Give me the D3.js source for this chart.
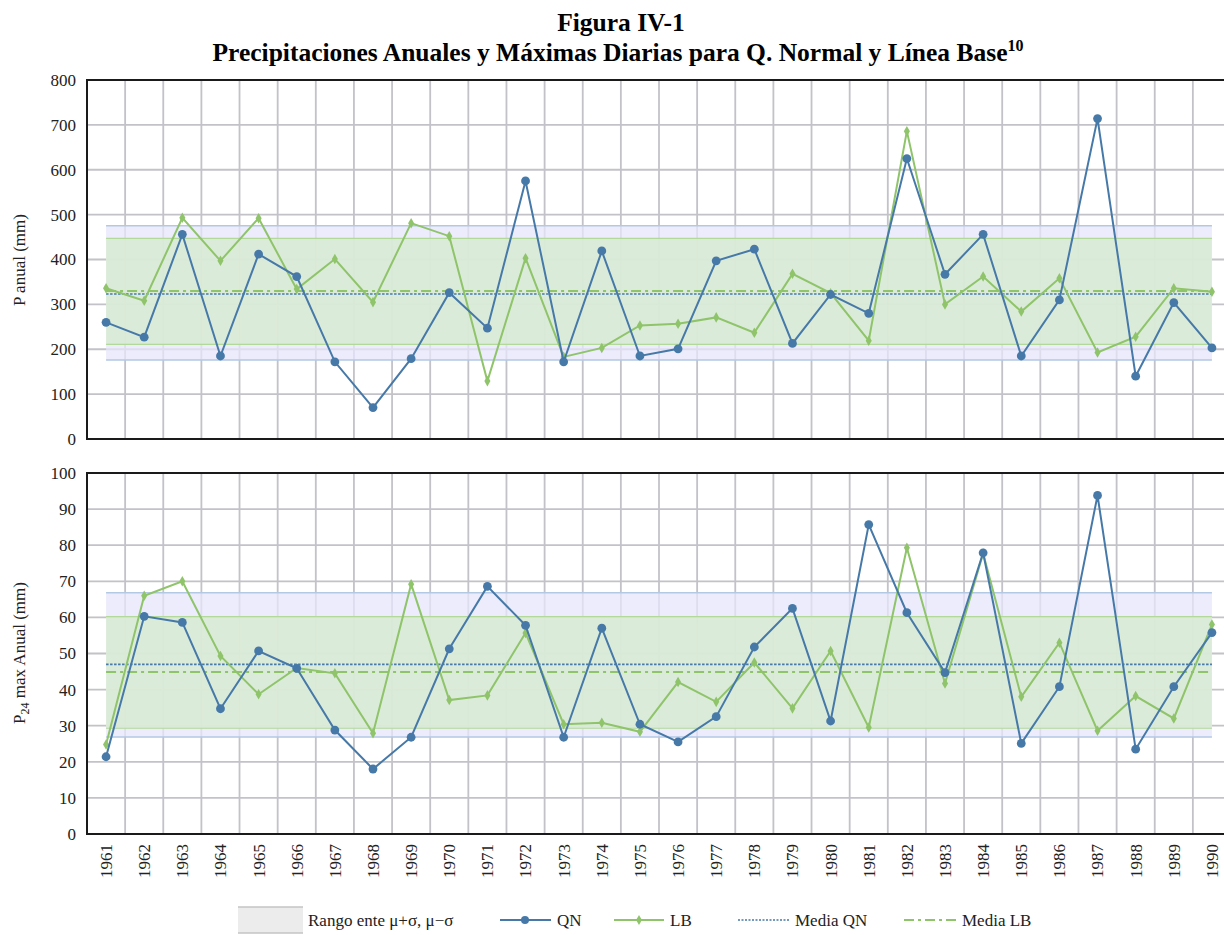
<!DOCTYPE html>
<html>
<head>
<meta charset="utf-8">
<script src="https://cdn.jsdelivr.net/npm/d3@7"></script>
<style>
  body { margin: 0; background: #fff; }
  svg text { font-family: "Liberation Serif", "Times New Roman", serif; }
</style>
</head>
<body>
<div id="chart"></div>
<script>
// Figura IV-1 - annual and max daily precipitation, QN vs LB

const years = d3.range(1961, 1991);

const pAnualQN = [260, 227, 456, 185, 412, 362, 172, 70, 179, 326,
  247, 575, 172, 419, 185, 201, 397, 423, 213, 322,
  280, 625, 367, 456, 185, 310, 714, 140, 304, 203];
const pAnualLB = [336, 308, 493, 397, 492, 334, 401, 305, 481, 452,
  129, 403, 183, 203, 253, 257, 271, 237, 368, 325,
  219, 686, 300, 362, 284, 358, 193, 228, 336, 328];

const p24QN = [21.4, 60.3, 58.6, 34.7, 50.7, 45.9, 28.8, 18.0, 26.8, 51.3,
  68.6, 57.8, 26.8, 57.0, 30.4, 25.5, 32.5, 51.8, 62.5, 31.3,
  85.7, 61.3, 44.7, 77.9, 25.1, 40.8, 93.8, 23.5, 40.8, 55.8];
const p24LB = [24.8, 66.0, 70.0, 49.3, 38.7, 46.0, 44.5, 27.9, 69.2, 37.1,
  38.4, 55.7, 30.4, 30.8, 28.3, 42.1, 36.6, 47.5, 34.8, 50.7,
  29.5, 79.3, 41.7, 77.7, 38.0, 53.0, 28.6, 38.2, 32.0, 58.0];

// mean and mean +/- sigma
const statsAnual = { qnMean: 323, qnLo: 176, qnHi: 475, lbMean: 330, lbLo: 211, lbHi: 447 };
const statsP24 = { qnMean: 47.0, qnLo: 26.9, qnHi: 66.8, lbMean: 44.9, lbLo: 29.3, lbHi: 60.2 };

const ticksAnual = d3.range(0, 801, 100);
const ticksP24 = d3.range(0, 101, 10);

const colQN = '#4679a8';
const colLB = '#8fc46a';
const gridCol = '#c2c2c8';
const serif = '"Liberation Serif", "Times New Roman", serif';

const W = 1224, H = 935;
const plotLeft = 87, plotRight = 1231;

const svg = d3.select('#chart').append('svg')
  .attr('width', W)
  .attr('height', H)
  .attr('font-family', serif);

const x = d3.scalePoint().domain(years).range([plotLeft, plotRight]).padding(0.5);
const step = x.step();

function drawPanel(cfg) {
  const y = d3.scaleLinear().domain(cfg.domain).range([cfg.bottom, cfg.top]);
  const g = svg.append('g');
  const x0 = x(years[0]), x1 = x(years[years.length - 1]);

  // horizontal grid
  g.selectAll('.hgrid').data(cfg.ticks).enter().append('line')
    .attr('x1', plotLeft).attr('x2', plotRight)
    .attr('y1', d => y(d)).attr('y2', d => y(d))
    .attr('stroke', gridCol).attr('stroke-width', 1.8);

  // vertical grid between categories
  g.selectAll('.vgrid').data(years.slice(1)).enter().append('line')
    .attr('x1', d => x(d) - step / 2).attr('x2', d => x(d) - step / 2)
    .attr('y1', cfg.top).attr('y2', cfg.bottom)
    .attr('stroke', gridCol).attr('stroke-width', 1.8);

  const s = cfg.stats;
  // QN band
  g.append('rect')
    .attr('x', x0).attr('width', x1 - x0)
    .attr('y', y(s.qnHi)).attr('height', y(s.qnLo) - y(s.qnHi))
    .attr('fill', '#e6e6fb').attr('fill-opacity', 0.75);
  [s.qnHi, s.qnLo].forEach(v => {
    g.append('line').attr('x1', x0).attr('x2', x1)
      .attr('y1', y(v)).attr('y2', y(v))
      .attr('stroke', '#b3c9e3').attr('stroke-width', 1.5);
  });
  // LB band
  g.append('rect')
    .attr('x', x0).attr('width', x1 - x0)
    .attr('y', y(s.lbHi)).attr('height', y(s.lbLo) - y(s.lbHi))
    .attr('fill', '#d8ebd2').attr('fill-opacity', 0.85);
  [s.lbHi, s.lbLo].forEach(v => {
    g.append('line').attr('x1', x0).attr('x2', x1)
      .attr('y1', y(v)).attr('y2', y(v))
      .attr('stroke', '#b2d89a').attr('stroke-width', 1.2);
  });

  // mean lines
  g.append('line').attr('x1', x0).attr('x2', x1)
    .attr('y1', y(s.qnMean)).attr('y2', y(s.qnMean))
    .attr('stroke', colQN).attr('stroke-width', 1.6)
    .attr('stroke-dasharray', '2.5,1.5');
  g.append('line').attr('x1', x0).attr('x2', x1)
    .attr('y1', y(s.lbMean)).attr('y2', y(s.lbMean))
    .attr('stroke', colLB).attr('stroke-width', 2)
    .attr('stroke-dasharray', '10,4,3,4');

  const line = d3.line().x((d, i) => x(years[i])).y(d => y(d));

  // LB series
  g.append('path').datum(cfg.lb)
    .attr('d', line).attr('fill', 'none')
    .attr('stroke', colLB).attr('stroke-width', 2);
  g.selectAll('.lbpt').data(cfg.lb).enter().append('path')
    .attr('transform', (d, i) => `translate(${x(years[i])},${y(d)})`)
    .attr('d', d3.symbol(d3.symbolDiamond, 32)())
    .attr('fill', colLB);

  // QN series
  g.append('path').datum(cfg.qn)
    .attr('d', line).attr('fill', 'none')
    .attr('stroke', colQN).attr('stroke-width', 2);
  g.selectAll('.qnpt').data(cfg.qn).enter().append('circle')
    .attr('cx', (d, i) => x(years[i])).attr('cy', d => y(d))
    .attr('r', 4.4).attr('fill', colQN);

  // frame
  g.append('rect')
    .attr('x', plotLeft).attr('y', cfg.top)
    .attr('width', plotRight - plotLeft).attr('height', cfg.bottom - cfg.top)
    .attr('fill', 'none').attr('stroke', '#1a1a1a').attr('stroke-width', 2);

  // y axis
  const ax = g.append('g')
    .attr('transform', `translate(${plotLeft},0)`)
    .call(d3.axisLeft(y).tickValues(cfg.ticks).tickSize(0).tickPadding(11))
    .attr('font-family', serif);
  ax.select('.domain').remove();
  ax.selectAll('text')
    .attr('font-size', 17).attr('fill', '#222');

  return y;
}

drawPanel({ domain: [0, 800], top: 80, bottom: 439, ticks: ticksAnual,
  stats: statsAnual, qn: pAnualQN, lb: pAnualLB });
drawPanel({ domain: [0, 100], top: 473, bottom: 834, ticks: ticksP24,
  stats: statsP24, qn: p24QN, lb: p24LB });

// axis titles
svg.append('text')
  .attr('transform', 'translate(19,260) rotate(-90)')
  .attr('dy', '0.35em')
  .attr('text-anchor', 'middle')
  .attr('font-size', 17).attr('fill', '#222')
  .text('P anual (mm)');

const t2 = svg.append('text')
  .attr('transform', 'translate(19,653) rotate(-90)')
  .attr('dy', '0.35em')
  .attr('text-anchor', 'middle')
  .attr('font-size', 17).attr('fill', '#222');
t2.append('tspan').text('P');
t2.append('tspan').attr('font-size', 12).attr('dy', 4).text('24');
t2.append('tspan').attr('dy', -4).text(' max Anual (mm)');

// year labels
svg.selectAll('.yr').data(years).enter().append('text')
  .attr('transform', d => `translate(${x(d)},844) rotate(-90)`)
  .attr('dy', '0.35em')
  .attr('text-anchor', 'end')
  .attr('font-size', 17).attr('fill', '#222')
  .text(d => d);

// title
svg.append('text')
  .attr('x', 621).attr('y', 31)
  .attr('text-anchor', 'middle')
  .attr('font-weight', 'bold').attr('font-size', 25.5)
  .text('Figura IV-1');
const tt = svg.append('text')
  .attr('x', 618).attr('y', 61)
  .attr('text-anchor', 'middle')
  .attr('font-weight', 'bold').attr('font-size', 25.5);
tt.append('tspan').text('Precipitaciones Anuales y Máximas Diarias para Q. Normal y Línea Base');
tt.append('tspan').attr('font-size', 16).attr('dy', -10).text('10');

// legend
const lg = svg.append('g').attr('font-size', 17).attr('fill', '#222');
const ly = 920;
lg.append('rect').attr('x', 238).attr('y', 907).attr('width', 65).attr('height', 26)
  .attr('fill', '#ececec');
lg.append('line').attr('x1', 238).attr('x2', 303).attr('y1', 907).attr('y2', 907)
  .attr('stroke', '#c4c4c4').attr('stroke-width', 1.5);
lg.append('line').attr('x1', 238).attr('x2', 303).attr('y1', 933).attr('y2', 933)
  .attr('stroke', '#c4c4c4').attr('stroke-width', 1.5);
lg.append('text').attr('x', 308).attr('y', ly).attr('dy', '0.35em').text('Rango ente μ+σ, μ−σ');

lg.append('line').attr('x1', 500).attr('x2', 551).attr('y1', ly).attr('y2', ly)
  .attr('stroke', colQN).attr('stroke-width', 2);
lg.append('circle').attr('cx', 525).attr('cy', ly).attr('r', 4).attr('fill', colQN);
lg.append('text').attr('x', 557).attr('y', ly).attr('dy', '0.35em').text('QN');

lg.append('line').attr('x1', 614).attr('x2', 664).attr('y1', ly).attr('y2', ly)
  .attr('stroke', colLB).attr('stroke-width', 2);
lg.append('path').attr('transform', `translate(639,${ly})`)
  .attr('d', d3.symbol(d3.symbolDiamond, 30)()).attr('fill', colLB);
lg.append('text').attr('x', 670).attr('y', ly).attr('dy', '0.35em').text('LB');

lg.append('line').attr('x1', 738).attr('x2', 789).attr('y1', ly).attr('y2', ly)
  .attr('stroke', colQN).attr('stroke-width', 1.5).attr('stroke-dasharray', '2,1.5');
lg.append('text').attr('x', 795).attr('y', ly).attr('dy', '0.35em').text('Media QN');

lg.append('line').attr('x1', 904).attr('x2', 956).attr('y1', ly).attr('y2', ly)
  .attr('stroke', colLB).attr('stroke-width', 2).attr('stroke-dasharray', '10,4,3,4');
lg.append('text').attr('x', 962).attr('y', ly).attr('dy', '0.35em').text('Media LB');
</script>
</body>
</html>
